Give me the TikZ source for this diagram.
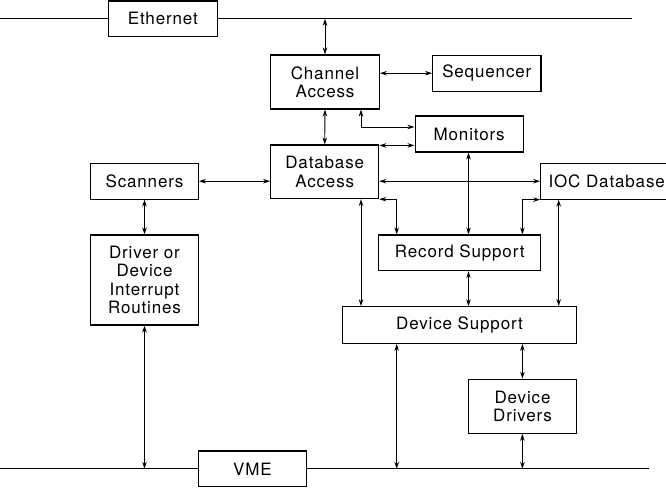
\documentclass[tikz,border=0pt]{standalone}
\usepackage{fontspec}
\setmainfont[LetterSpace=5]{TeX Gyre Heros}
\usetikzlibrary{arrows.meta,calc}
\begin{document}
\begin{tikzpicture}[x=1pt,y=-1pt,
  box/.style={draw, line width=1.1pt, align=center, inner sep=0pt,
    font=\fontsize{17}{18.3}\selectfont},
  link/.style={<->, line width=0.9pt},
  bus/.style={line width=1.2pt},
  >={Stealth[length=7pt,width=4.5pt]}]
\useasboundingbox (0,0) rectangle (666,488);
% boxes
\node[box, minimum width=109pt, minimum height=35.7pt] (eth) at (162.8,18.8) {Ethernet};
\node[box, minimum width=108.6pt, minimum height=54pt] (ca) at (325,82) {Channel\\Access};
\node[box, minimum width=108.3pt, minimum height=35.7pt] (seq) at (486.8,73.2) {Sequencer};
\node[box, minimum width=108.3pt, minimum height=36pt] (mon) at (469.2,134) {Monitors};
\node[box, minimum width=108pt, minimum height=53.7pt] (da) at (324.7,171.8) {Database\\Access};
\node[box, minimum width=107.6pt, minimum height=35.7pt] (scan) at (144.5,181.2) {Scanners};
\node[box, minimum width=132pt, minimum height=35.7pt] (ioc) at (606.7,181.2) {IOC Database};
\node[box, minimum width=107.6pt, minimum height=90pt] (drv) at (144.5,280) {Driver or\\Device\\Interrupt\\Routines};
\node[box, minimum width=162pt, minimum height=35.7pt] (rs) at (459.7,252.8) {Record Support};
\node[box, minimum width=234.4pt, minimum height=36.6pt] (ds) at (459.5,325) {Device Support};
\node[box, minimum width=108.4pt, minimum height=54pt] (dd) at (522.5,406.3) {Device\\Drivers};
\node[box, minimum width=108.4pt, minimum height=35.7pt] (vme) at (252.5,468.8) {VME};
% bus ends and columns
\coordinate (ethL) at (0,18.8);
\coordinate (ethR) at (632,18.8);
\coordinate (vmeL) at (0,468.8);
\coordinate (vmeR) at (649,468.8);
\coordinate (c361) at (361,0);
\coordinate (c396) at (396.7,0);
\coordinate (c468) at (468.5,0);
\coordinate (c522) at (522.4,0);
\coordinate (c558) at (558.7,0);
\coordinate (dane) at ($(da.north east)+(0,1)$);
\coordinate (monup) at ($(mon.west)+(0,-7)$);
% buses
\draw[bus] (ethL) -- (eth.west);
\draw[bus] (eth.east) -- (ethR);
\draw[bus] (vmeL) -- (vme.west);
\draw[bus] (vme.east) -- (vmeR);
% connectors
\draw[link] (eth.west -| ca.north) -- (ca.north);
\draw[link] (ca.south) -- (da.north);
\draw[link] (ca.east |- seq.west) -- (seq.west);
\draw[link] (ca.south -| c361) |- (monup);
\draw[link] (dane) -- (dane -| mon.west);
\draw[link] (da.east |- ioc.west) -- (ioc.west);
\draw[link] (scan.east) -- (scan.east -| da.west);
\draw[link] (scan.south) -- (drv.north);
\draw[link] (drv.south) -- (drv.south |- vme.west);
\draw[link] (da.south east) -| (rs.north -| c396);
\draw[link] (ioc.south west) -| (rs.north -| c522);
\draw[link] (mon.south -| c468) -- (rs.north -| c468);
\draw[link] (da.south -| c361) -- (ds.north -| c361);
\draw[link] (ioc.south -| c558) -- (ds.north -| c558);
\draw[link] (rs.south -| c468) -- (ds.north -| c468);
\draw[link] (ds.south -| c396) -- (vme.west -| c396);
\draw[link] (ds.south -| c522) -- (dd.north -| c522);
\draw[link] (dd.south -| c522) -- (vme.west -| c522);
\end{tikzpicture}
\end{document}
